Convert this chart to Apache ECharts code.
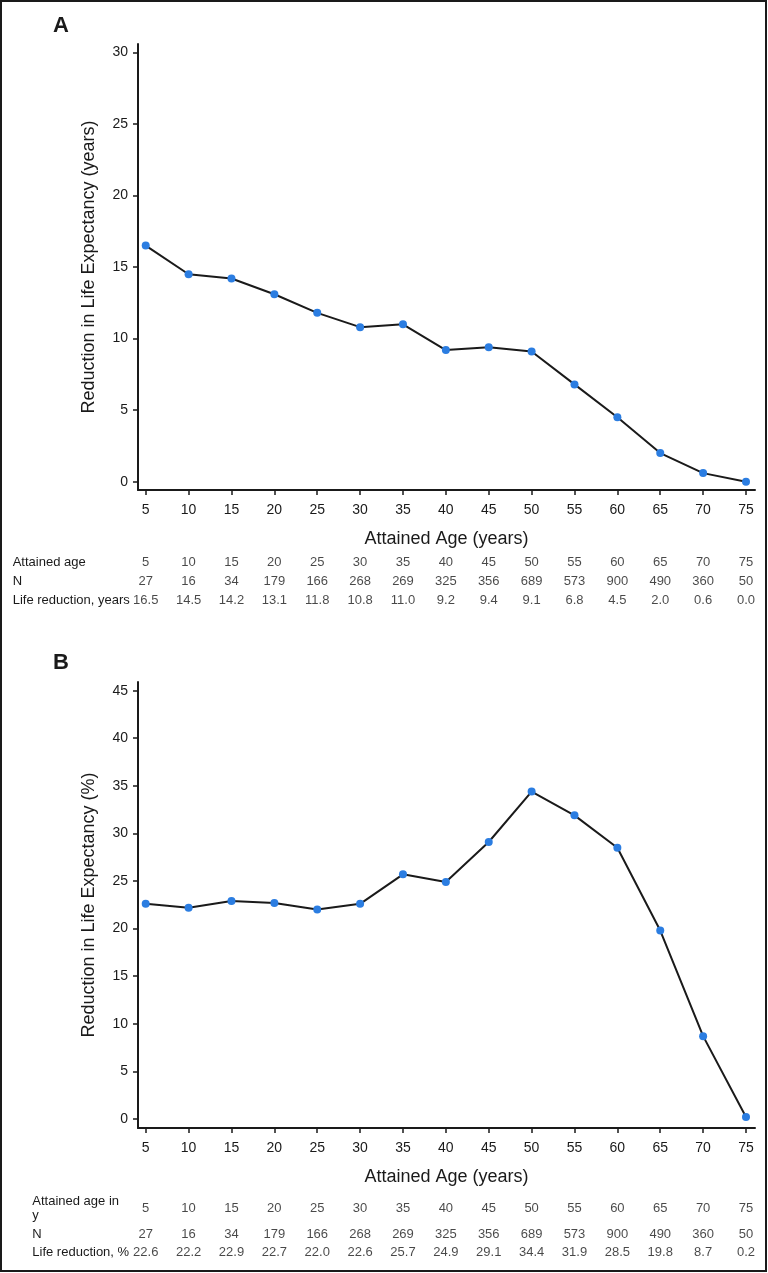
<!DOCTYPE html>
<html>
<head>
<meta charset="utf-8">
<script src="https://cdn.jsdelivr.net/npm/echarts@6/dist/echarts.min.js"></script>
<style>
html,body{margin:0;padding:0;background:#fff;}
#c{width:768px;height:1273px;}
</style>
</head>
<body>
<div id="c"></div>
<script>
// ---- data ----
const ages = [5, 10, 15, 20, 25, 30, 35, 40, 45, 50, 55, 60, 65, 70, 75];
const nCounts = [27, 16, 34, 179, 166, 268, 269, 325, 356, 689, 573, 900, 490, 360, 50];
const lifeYears = [16.5, 14.5, 14.2, 13.1, 11.8, 10.8, 11.0, 9.2, 9.4, 9.1, 6.8, 4.5, 2.0, 0.6, 0.0];
const lifePct = [22.6, 22.2, 22.9, 22.7, 22.0, 22.6, 25.7, 24.9, 29.1, 34.4, 31.9, 28.5, 19.8, 8.7, 0.2];
const yTicksA = [0, 5, 10, 15, 20, 25, 30];
const yTicksB = [0, 5, 10, 15, 20, 25, 30, 35, 40, 45];
const rowLabelsA = ['Attained age', 'N', 'Life reduction, years'];
const rowLabelsB = ['Attained age in\ny', 'N', 'Life reduction, %'];
const xTitle = 'Attained Age (years)';
const yTitleA = 'Reduction in Life Expectancy (years)';
const yTitleB = 'Reduction in Life Expectancy (%)';

// ---- layout / style ----
const FONT = '"Liberation Sans", Arial, Helvetica, sans-serif';
const INK = '#1a1a1a';
const DOT = '#2b7de1';
const GL = 138, GR = 13;
const XMIN = 4.10, XMAX = 76.05;

const chart = echarts.init(document.getElementById('c'), null, {renderer: 'canvas'});

const grids = [], xAxes = [], yAxes = [], series = [];

function mainPanel(top, height, yMin, yMax, yTicks, yTitle, values) {
  const gi = grids.length;
  grids.push({left: GL, right: GR, top: top, height: height, containLabel: false});
  xAxes.push({
    gridIndex: gi, type: 'value', min: XMIN, max: XMAX,
    axisLine: {show: true, onZero: false, lineStyle: {color: INK, width: 2}},
    axisTick: {show: true, customValues: ages, length: 5, inside: false, lineStyle: {color: INK, width: 1.5}},
    axisLabel: {show: true, customValues: ages, margin: 13, fontSize: 14, color: INK, fontFamily: FONT},
    splitLine: {show: false},
    name: xTitle, nameLocation: 'middle', nameGap: 40,
    nameTextStyle: {fontSize: 18, color: INK, fontFamily: FONT}
  });
  yAxes.push({
    gridIndex: gi, type: 'value', min: yMin, max: yMax,
    axisLine: {show: true, onZero: false, lineStyle: {color: INK, width: 2}},
    axisTick: {show: true, customValues: yTicks, length: 5, inside: false, lineStyle: {color: INK, width: 1.5}},
    axisLabel: {show: true, customValues: yTicks, margin: 10, fontSize: 14, color: INK, fontFamily: FONT},
    splitLine: {show: false},
    name: yTitle, nameLocation: 'middle', nameGap: 40,
    nameTextStyle: {fontSize: 18, color: INK, fontFamily: FONT}
  });
  series.push({
    type: 'line', xAxisIndex: gi, yAxisIndex: gi,
    data: ages.map((a, i) => [a, values[i]]),
    lineStyle: {color: INK, width: 2},
    itemStyle: {color: DOT},
    symbol: 'circle', symbolSize: 8, showSymbol: true,
    z: 3
  });
}

function tableRow(centerY, label, values, labelX, fmt) {
  const gi = grids.length;
  grids.push({left: GL, right: GR, top: centerY - 9, height: 18, containLabel: false});
  xAxes.push({gridIndex: gi, type: 'value', min: XMIN, max: XMAX, show: false});
  yAxes.push({
    gridIndex: gi, type: 'category', data: [label],
    axisLine: {show: false}, axisTick: {show: false}, splitLine: {show: false},
    axisLabel: {show: true, align: 'left', verticalAlign: 'middle', margin: GL - labelX,
      fontSize: 13, lineHeight: 14, color: INK, fontFamily: FONT}
  });
  series.push({
    type: 'scatter', xAxisIndex: gi, yAxisIndex: gi,
    data: ages.map((a, i) => [a, 0, values[i]]),
    symbolSize: 0,
    label: {show: true, position: 'inside', fontSize: 13, color: INK, fontFamily: FONT,
      formatter: p => fmt(p.value[2])}
  });
}

const intFmt = v => String(v);
const decFmt = v => v.toFixed(1);

mainPanel(44, 446, -0.58, 30.59, yTicksA, yTitleA, lifeYears);
tableRow(562.7, rowLabelsA[0], ages, 12.7, intFmt);
tableRow(581.3, rowLabelsA[1], nCounts, 12.7, intFmt);
tableRow(600, rowLabelsA[2], lifeYears, 12.7, decFmt);

mainPanel(682, 446, -0.95, 45.91, yTicksB, yTitleB, lifePct);
tableRow(1208.3, rowLabelsB[0], ages, 32.3, intFmt);
tableRow(1234.3, rowLabelsB[1], nCounts, 32.3, intFmt);
tableRow(1252.7, rowLabelsB[2], lifePct, 32.3, decFmt);

chart.setOption({
  animation: false,
  backgroundColor: '#fff',
  grid: grids,
  xAxis: xAxes,
  yAxis: yAxes,
  series: series,
  graphic: [
    {type: 'rect', shape: {x: 1, y: 1, width: 765, height: 1270}, style: {fill: 'none', stroke: INK, lineWidth: 2}, silent: true},
    {type: 'text', left: 53, top: 15, style: {text: 'A', font: 'bold 22px ' + FONT, fill: INK}},
    {type: 'text', left: 53, top: 652, style: {text: 'B', font: 'bold 22px ' + FONT, fill: INK}}
  ]
});
</script>
</body>
</html>
